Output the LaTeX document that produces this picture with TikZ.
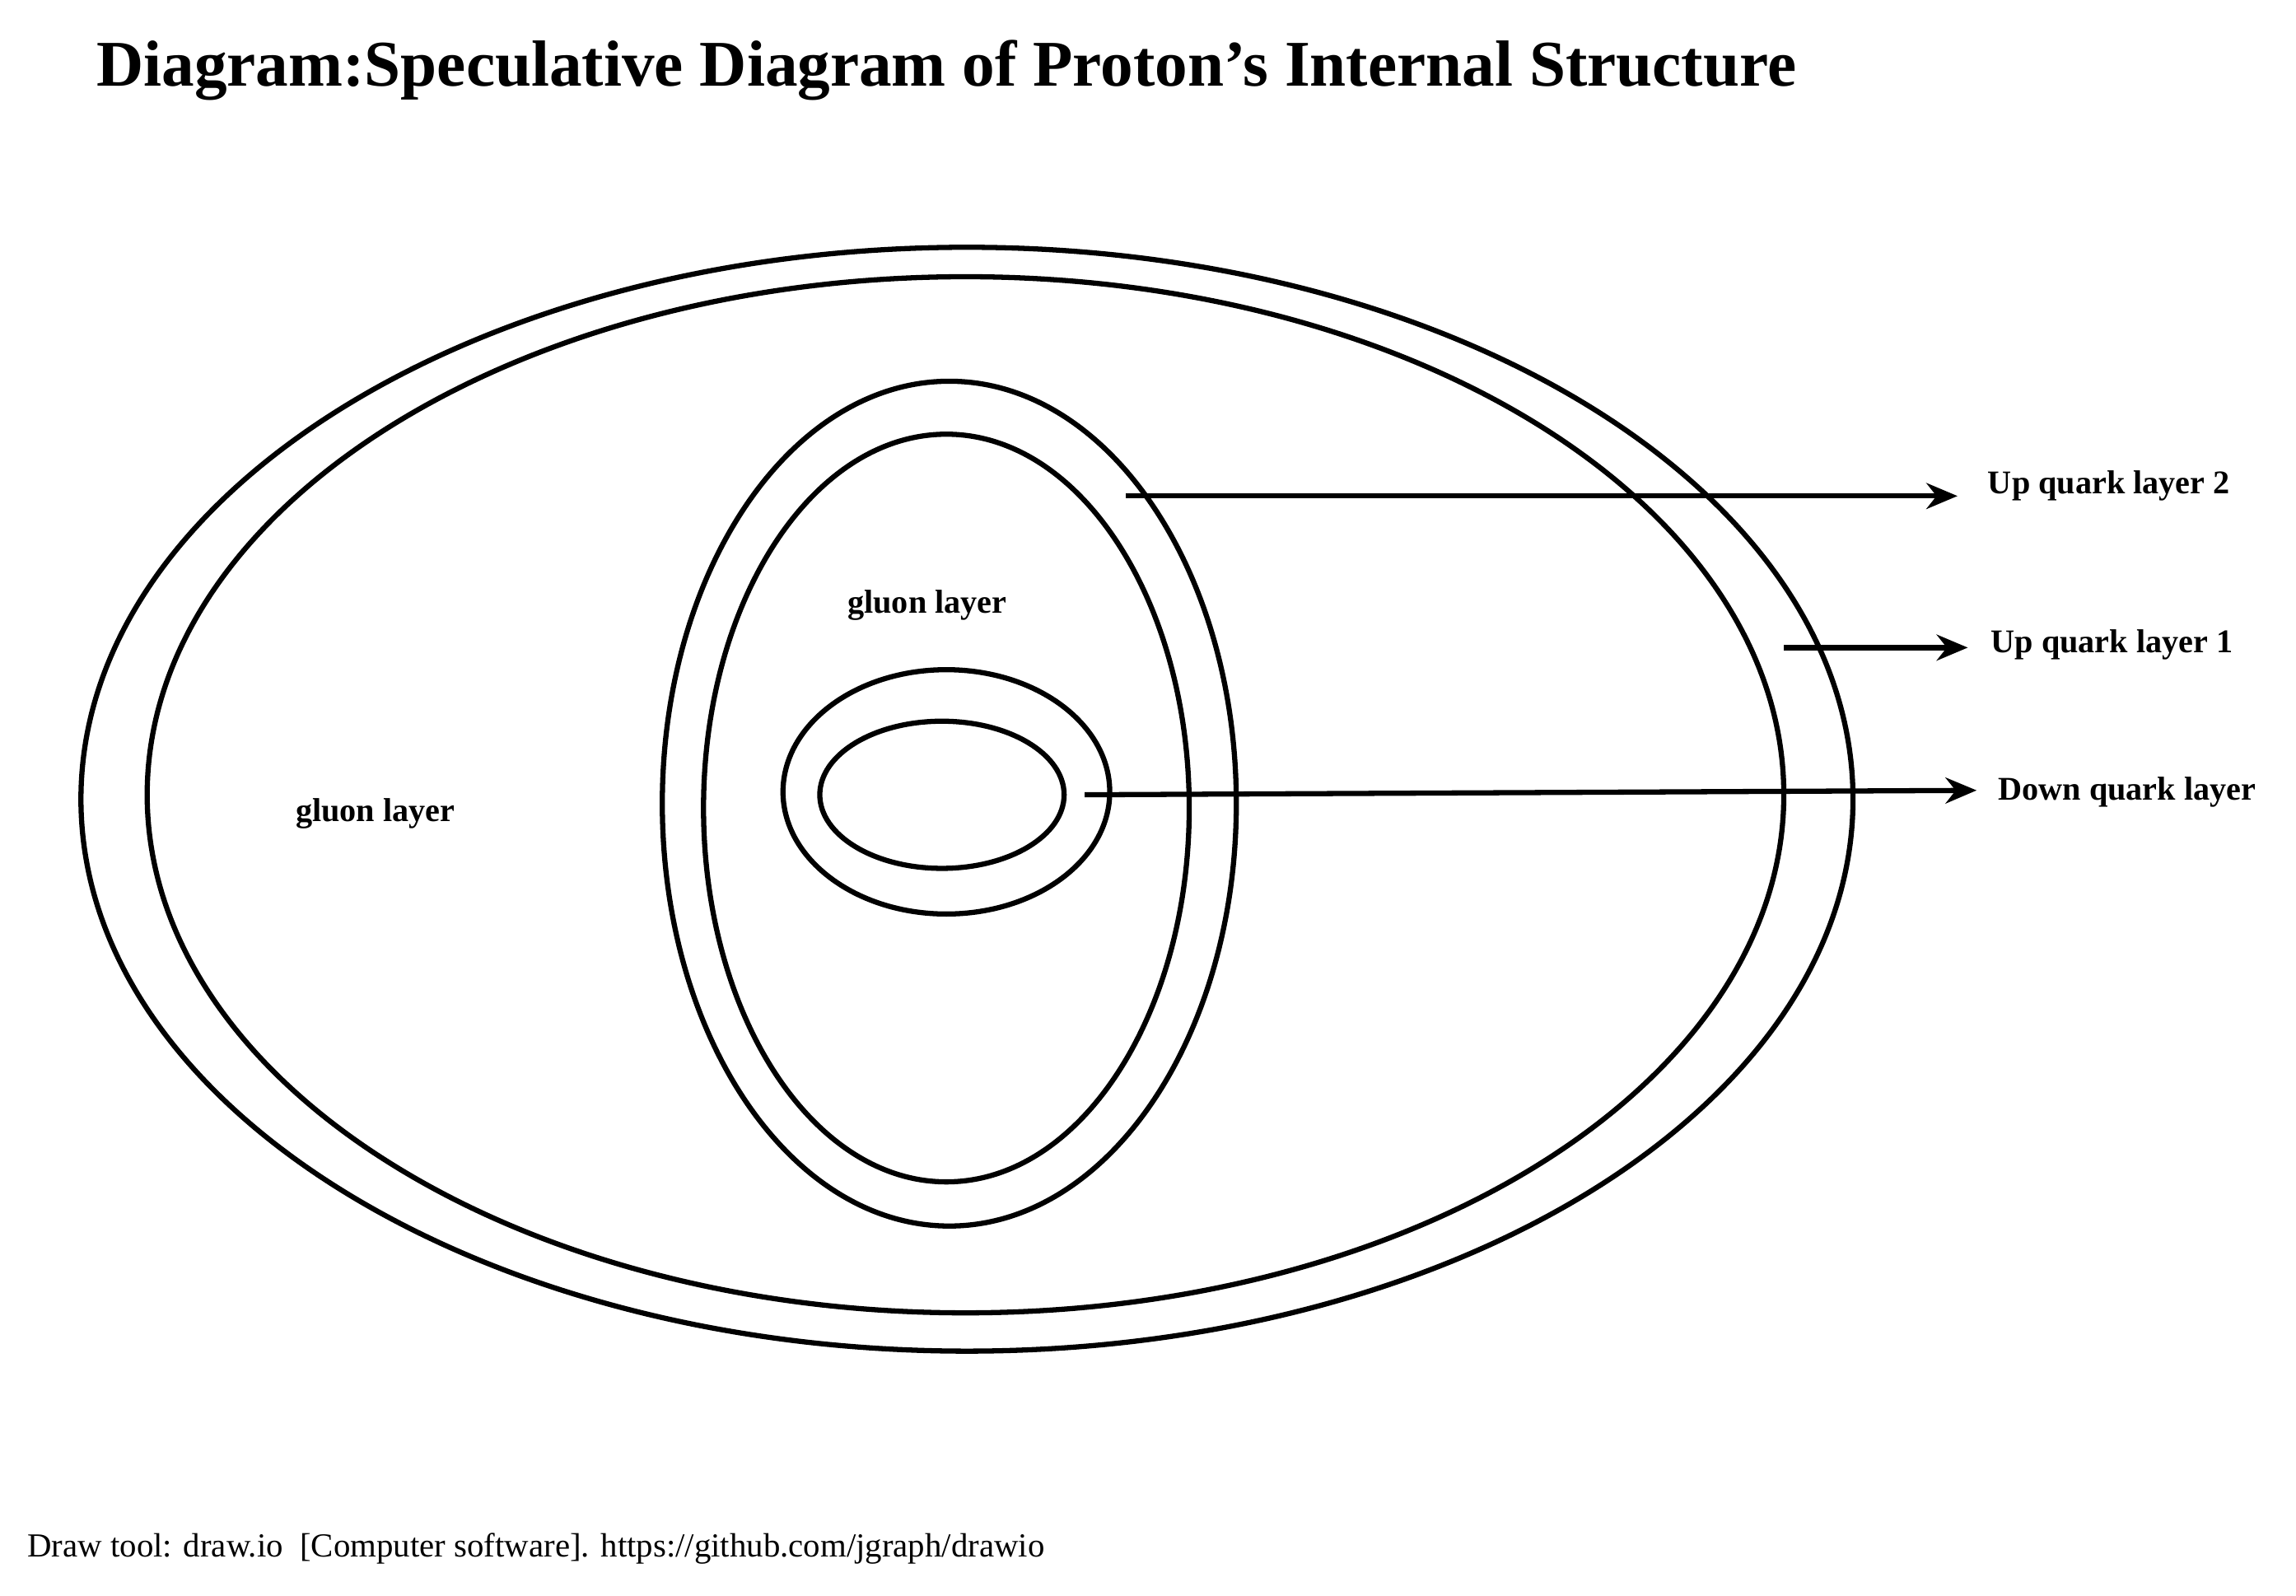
\documentclass[tikz,border=0pt]{standalone}
\usepackage{fontspec}
\setmainfont{Liberation Serif}
\usetikzlibrary{arrows.meta}
\begin{document}
\begin{tikzpicture}[x=0.01cm,y=-0.01cm,
  ring/.style={line width=1pt},
  arr/.style={line width=1pt,-{Stealth[length=6pt,width=5pt]}},
  lbl/.style={font=\fontsize{6.4pt}{7pt}\selectfont\bfseries,anchor=west,inner sep=0}]
\useasboundingbox (0,0) rectangle (1560,1084);
\node[font=\fontsize{12.6pt}{14pt}\selectfont\bfseries,anchor=west,inner sep=0] (title) at (65,48) {Diagram:Speculative Diagram of Proton's Internal Structure};
\draw[ring] (657,543) ellipse [x radius=602,y radius=375];
\draw[ring] (656,540) ellipse [x radius=556,y radius=352];
\draw[ring] (645,546) ellipse [x radius=195,y radius=287];
\draw[ring] (643,549) ellipse [x radius=165,y radius=254];
\draw[ring] (643,538) ellipse [x radius=111,y radius=83];
\draw[ring] (640,540) ellipse [x radius=83,y radius=50];
\node[lbl,anchor=center] (g1) at (630,411) {gluon layer};
\node[lbl,anchor=center] (g2) at (255,553) {gluon layer};
\node[lbl] (u2) at (1350,330) {Up quark layer 2};
\node[lbl] (u1) at (1352,438) {Up quark layer 1};
\node[lbl] (d) at (1357,538) {Down quark layer};
\coordinate (s2) at (765,337);
\coordinate (s1) at (1212,440);
\coordinate (sd) at (737,540);
\draw[arr] (s2) -- (1330,337);
\draw[arr] (s1) -- (1337,440);
\draw[arr] (sd) -- (1343,537);
\node[font=\fontsize{6.5pt}{7pt}\selectfont,anchor=west,inner sep=0] (foot) at (18,1052) {Draw tool: draw.io\ \ [Computer software]. https://github.com/jgraph/drawio};
\end{tikzpicture}
\end{document}
